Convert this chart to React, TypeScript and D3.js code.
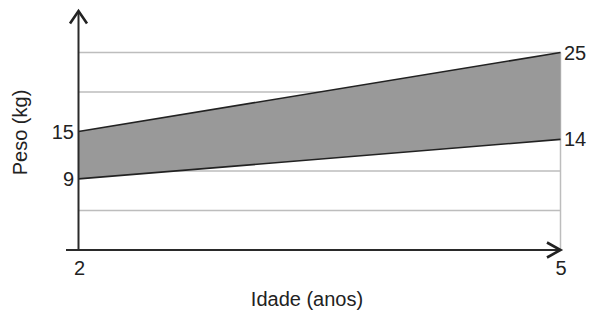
import React from "react";
import * as d3 from "d3";

const ages = [2, 5];
const upperWeights = [15, 25];
const lowerWeights = [9, 14];
const gridValues = [5, 10, 15, 20, 25];
const xTickLabels = ["2", "5"];
const xTitle = "Idade (anos)";
const yTitle = "Peso (kg)";

const W = 590;
const H = 312;

export default function App() {
  const x = d3.scaleLinear().domain([2, 5]).range([78.5, 560.5]);
  const y = d3.scaleLinear().domain([0, 25]).range([250, 52.5]);

  const data = ages.map((a, i) => ({ a, lo: lowerWeights[i], hi: upperWeights[i] }));
  const area = d3
    .area<{ a: number; lo: number; hi: number }>()
    .x((d) => x(d.a))
    .y0((d) => y(d.lo))
    .y1((d) => y(d.hi));
  const upperLine = d3
    .line<{ a: number; lo: number; hi: number }>()
    .x((d) => x(d.a))
    .y((d) => y(d.hi));
  const lowerLine = d3
    .line<{ a: number; lo: number; hi: number }>()
    .x((d) => x(d.a))
    .y((d) => y(d.lo));

  const x0 = x(2);
  const x1 = x(5);
  const yb = y(0);
  const font = "'Liberation Sans', Arial, Helvetica, sans-serif";
  const textColor = "#222";

  return (
    <svg
      width={W}
      height={H}
      style={{ position: "absolute", left: 0, top: 0, background: "#fff" }}
      fontFamily={font}
    >
      {gridValues.map((v) => (
        <line
          key={v}
          x1={x0}
          x2={x1}
          y1={y(v)}
          y2={y(v)}
          stroke="#bdbdbd"
          strokeWidth={1.5}
        />
      ))}
      <line x1={x1} x2={x1} y1={y(25)} y2={yb} stroke="#bdbdbd" strokeWidth={1.5} />
      <path d={area(data) || ""} fill="#999999" stroke="none" />
      <path d={upperLine(data) || ""} fill="none" stroke="#222" strokeWidth={1.6} />
      <path d={lowerLine(data) || ""} fill="none" stroke="#222" strokeWidth={1.6} />

      {/* axes */}
      <line x1={x0} x2={x0} y1={11} y2={yb} stroke="#2a2a2a" strokeWidth={2} />
      <line x1={66} x2={x1} y1={yb} y2={yb} stroke="#2a2a2a" strokeWidth={2} />
      <path
        d={`M${x0 - 8.5},${23.5} L${x0},${11} L${x0 + 8.5},${23.5}`}
        fill="none"
        stroke="#222"
        strokeWidth={2.6}
      />
      <path
        d={`M${x1 - 13.5},${yb - 7.5} L${x1},${yb} L${x1 - 13.5},${yb + 7.5}`}
        fill="none"
        stroke="#222"
        strokeWidth={2.6}
      />

      {/* left value labels */}
      {[upperWeights[0], lowerWeights[0]].map((v) => (
        <text key={"l" + v} x={74} y={y(v) + 7} textAnchor="end" fontSize={20} fill={textColor}>
          {v}
        </text>
      ))}
      {/* right value labels */}
      {[upperWeights[1], lowerWeights[1]].map((v) => (
        <text key={"r" + v} x={564} y={y(v) + 7} textAnchor="start" fontSize={20} fill={textColor}>
          {v}
        </text>
      ))}
      {/* x tick labels */}
      {ages.map((a, i) => (
        <text
          key={"x" + a}
          x={x(a) + (i === 0 ? 1 : 0.5)}
          y={275}
          textAnchor="middle"
          fontSize={20}
          fill={textColor}
        >
          {xTickLabels[i]}
        </text>
      ))}
      <text x={307} y={306} textAnchor="middle" fontSize={20} fill={textColor}>
        {xTitle}
      </text>
      <text
        transform={`translate(26.5,132.5) rotate(-90)`}
        textAnchor="middle"
        fontSize={20}
        fill={textColor}
      >
        {yTitle}
      </text>
    </svg>
  );
}
